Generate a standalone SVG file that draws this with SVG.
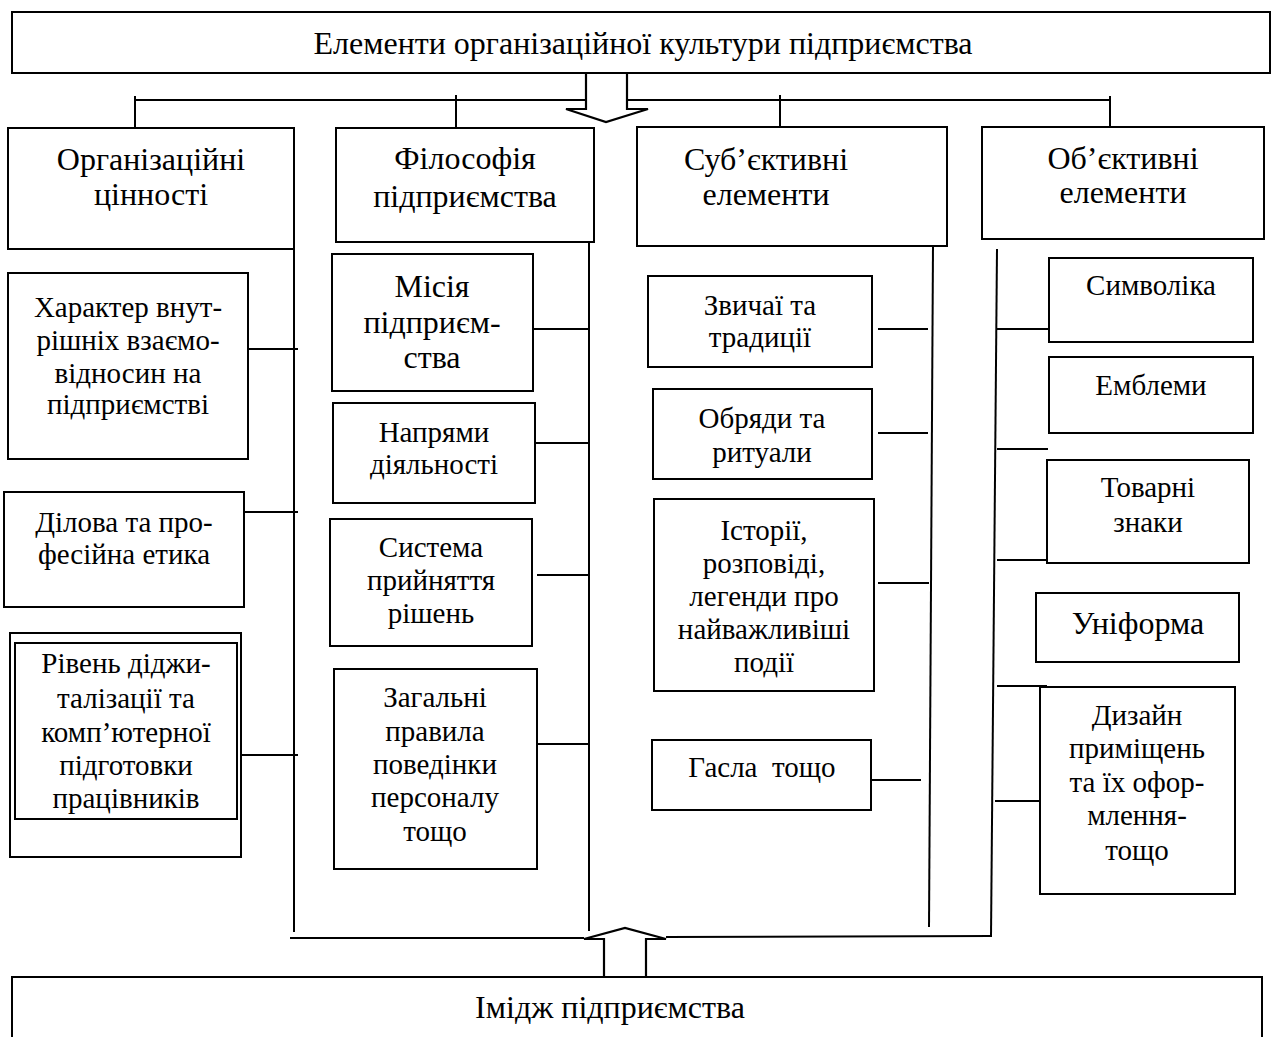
<svg xmlns="http://www.w3.org/2000/svg" width="1276" height="1037" viewBox="0 0 1276 1037">
<style>
rect{fill:#fff;stroke:#000;stroke-width:2}
text{font-family:"Liberation Serif","Times New Roman",serif;fill:#000;text-anchor:middle}
.t{font-size:32px}
.h{font-size:32px}
.m{font-size:29px}
.b{font-size:32px}
#connectors line,#connectors path{stroke:#000;stroke-width:2;fill:none}
#connectors .arrow{fill:#fff;stroke-width:2.2}
</style>
<rect width="1276" height="1037" style="fill:#fff;stroke:none"/>
<g id="connectors">
<line x1="135" y1="100" x2="586" y2="100"/>
<line x1="627" y1="100" x2="1110" y2="100"/>
<line x1="135" y1="96" x2="135" y2="128"/>
<line x1="456" y1="95" x2="456" y2="128"/>
<line x1="780" y1="95" x2="780" y2="127"/>
<line x1="1110" y1="96" x2="1110" y2="127"/>
<path class="arrow" d="M586,73 V109 H566 L606,122 L648,109 H627 V73"/>
<line x1="294" y1="249" x2="294" y2="932"/>
<line x1="247" y1="349" x2="298" y2="349"/>
<line x1="244" y1="512" x2="298" y2="512"/>
<line x1="241" y1="755" x2="298" y2="755"/>
<line x1="589" y1="242" x2="589" y2="931"/>
<line x1="533" y1="329" x2="589" y2="329"/>
<line x1="535" y1="443" x2="589" y2="443"/>
<line x1="537" y1="575" x2="589" y2="575"/>
<line x1="537" y1="744" x2="589" y2="744"/>
<line x1="933" y1="246" x2="929" y2="927"/>
<line x1="878" y1="329" x2="928" y2="329"/>
<line x1="878" y1="433" x2="928" y2="433"/>
<line x1="878" y1="583" x2="929" y2="583"/>
<line x1="870" y1="780" x2="921" y2="780"/>
<line x1="997" y1="249" x2="991" y2="937"/>
<line x1="997" y1="329" x2="1048" y2="329"/>
<line x1="997" y1="449" x2="1048" y2="449"/>
<line x1="997" y1="560" x2="1047" y2="560"/>
<line x1="997" y1="686" x2="1047" y2="686"/>
<line x1="995" y1="801" x2="1047" y2="801"/>
<line x1="290" y1="938" x2="584" y2="938"/>
<line x1="666" y1="937" x2="992" y2="936"/>
<path class="arrow" d="M604,977 V939 H584 L625,928 L666,939 H646 V977 Z"/>
</g>
<g id="top">
<rect x="12" y="12" width="1258" height="61"/>
<text class="t" x="643" y="54">Елементи організаційної культури підприємства</text>
</g>
<g id="h1">
<rect x="8" y="128" width="286" height="121"/>
<text class="h" x="151" y="170">Організаційні</text>
<text class="h" x="151" y="205">цінності</text>
</g>
<g id="h2">
<rect x="336" y="128" width="258" height="114"/>
<text class="h" x="465" y="169">Філософія</text>
<text class="h" x="465" y="207">підприємства</text>
</g>
<g id="h3">
<rect x="637" y="127" width="310" height="119"/>
<text class="h" x="766" y="170">Суб’єктивні</text>
<text class="h" x="766" y="205">елементи</text>
</g>
<g id="h4">
<rect x="982" y="127" width="282" height="112"/>
<text class="h" x="1123" y="169">Об’єктивні</text>
<text class="h" x="1123" y="203">елементи</text>
</g>
<g id="c1a">
<rect x="8" y="273" width="240" height="186"/>
<text class="m" x="128" y="317">Характер внут-</text>
<text class="m" x="128" y="350">рішніх взаємо-</text>
<text class="m" x="128" y="383">відносин на</text>
<text class="m" x="128" y="414">підприємстві</text>
</g>
<g id="c1b">
<rect x="4" y="492" width="240" height="115"/>
<text class="m" x="124" y="532">Ділова та про-</text>
<text class="m" x="124" y="564">фесійна етика</text>
</g>
<g id="c1c">
<rect x="10" y="633" width="231" height="224"/>
<rect x="15" y="643" width="222" height="176"/>
<text class="m" x="126" y="673">Рівень діджи-</text>
<text class="m" x="126" y="708">талізації та</text>
<text class="m" x="126" y="742">комп’ютерної</text>
<text class="m" x="126" y="775">підготовки</text>
<text class="m" x="126" y="808">працівників</text>
</g>
<g id="c2a">
<rect x="332" y="254" width="201" height="137"/>
<text class="b" x="432" y="297">Місія</text>
<text class="b" x="432" y="333">підприєм-</text>
<text class="b" x="432" y="368">ства</text>
</g>
<g id="c2b">
<rect x="333" y="403" width="202" height="100"/>
<text class="m" x="434" y="442">Напрями</text>
<text class="m" x="434" y="474">діяльності</text>
</g>
<g id="c2c">
<rect x="330" y="519" width="202" height="127"/>
<text class="m" x="431" y="557">Система</text>
<text class="m" x="431" y="590">прийняття</text>
<text class="m" x="431" y="623">рішень</text>
</g>
<g id="c2d">
<rect x="334" y="669" width="203" height="200"/>
<text class="m" x="435" y="707">Загальні</text>
<text class="m" x="435" y="741">правила</text>
<text class="m" x="435" y="774">поведінки</text>
<text class="m" x="435" y="807">персоналу</text>
<text class="m" x="435" y="841">тощо</text>
</g>
<g id="c3a">
<rect x="648" y="276" width="224" height="91"/>
<text class="m" x="760" y="315">Звичаї та</text>
<text class="m" x="760" y="347">традиції</text>
</g>
<g id="c3b">
<rect x="653" y="389" width="219" height="90"/>
<text class="m" x="762" y="428">Обряди та</text>
<text class="m" x="762" y="462">ритуали</text>
</g>
<g id="c3c">
<rect x="654" y="499" width="220" height="192"/>
<text class="m" x="764" y="540">Історії,</text>
<text class="m" x="764" y="573">розповіді,</text>
<text class="m" x="764" y="606">легенди про</text>
<text class="m" x="764" y="639">найважливіші</text>
<text class="m" x="764" y="672">події</text>
</g>
<g id="c3d">
<rect x="652" y="740" width="219" height="70"/>
<text class="m" x="762" y="777" xml:space="preserve">Гасла  тощо</text>
</g>
<g id="c4a">
<rect x="1049" y="258" width="204" height="84"/>
<text class="m" x="1151" y="295">Символіка</text>
</g>
<g id="c4b">
<rect x="1049" y="357" width="204" height="76"/>
<text class="m" x="1151" y="395">Емблеми</text>
</g>
<g id="c4c">
<rect x="1047" y="460" width="202" height="103"/>
<text class="m" x="1148" y="497">Товарні</text>
<text class="m" x="1148" y="532">знаки</text>
</g>
<g id="c4d">
<rect x="1036" y="593" width="203" height="69"/>
<text class="b" x="1138" y="634">Уніформа</text>
</g>
<g id="c4e">
<rect x="1040" y="687" width="195" height="207"/>
<text class="m" x="1137" y="725">Дизайн</text>
<text class="m" x="1137" y="758">приміщень</text>
<text class="m" x="1137" y="792">та їх офор-</text>
<text class="m" x="1137" y="825">млення-</text>
<text class="m" x="1137" y="860">тощо</text>
</g>
<g id="bottom">
<rect x="12" y="977" width="1250" height="80"/>
<text class="t" x="610" y="1018">Імідж підприємства</text>
</g>
</svg>
